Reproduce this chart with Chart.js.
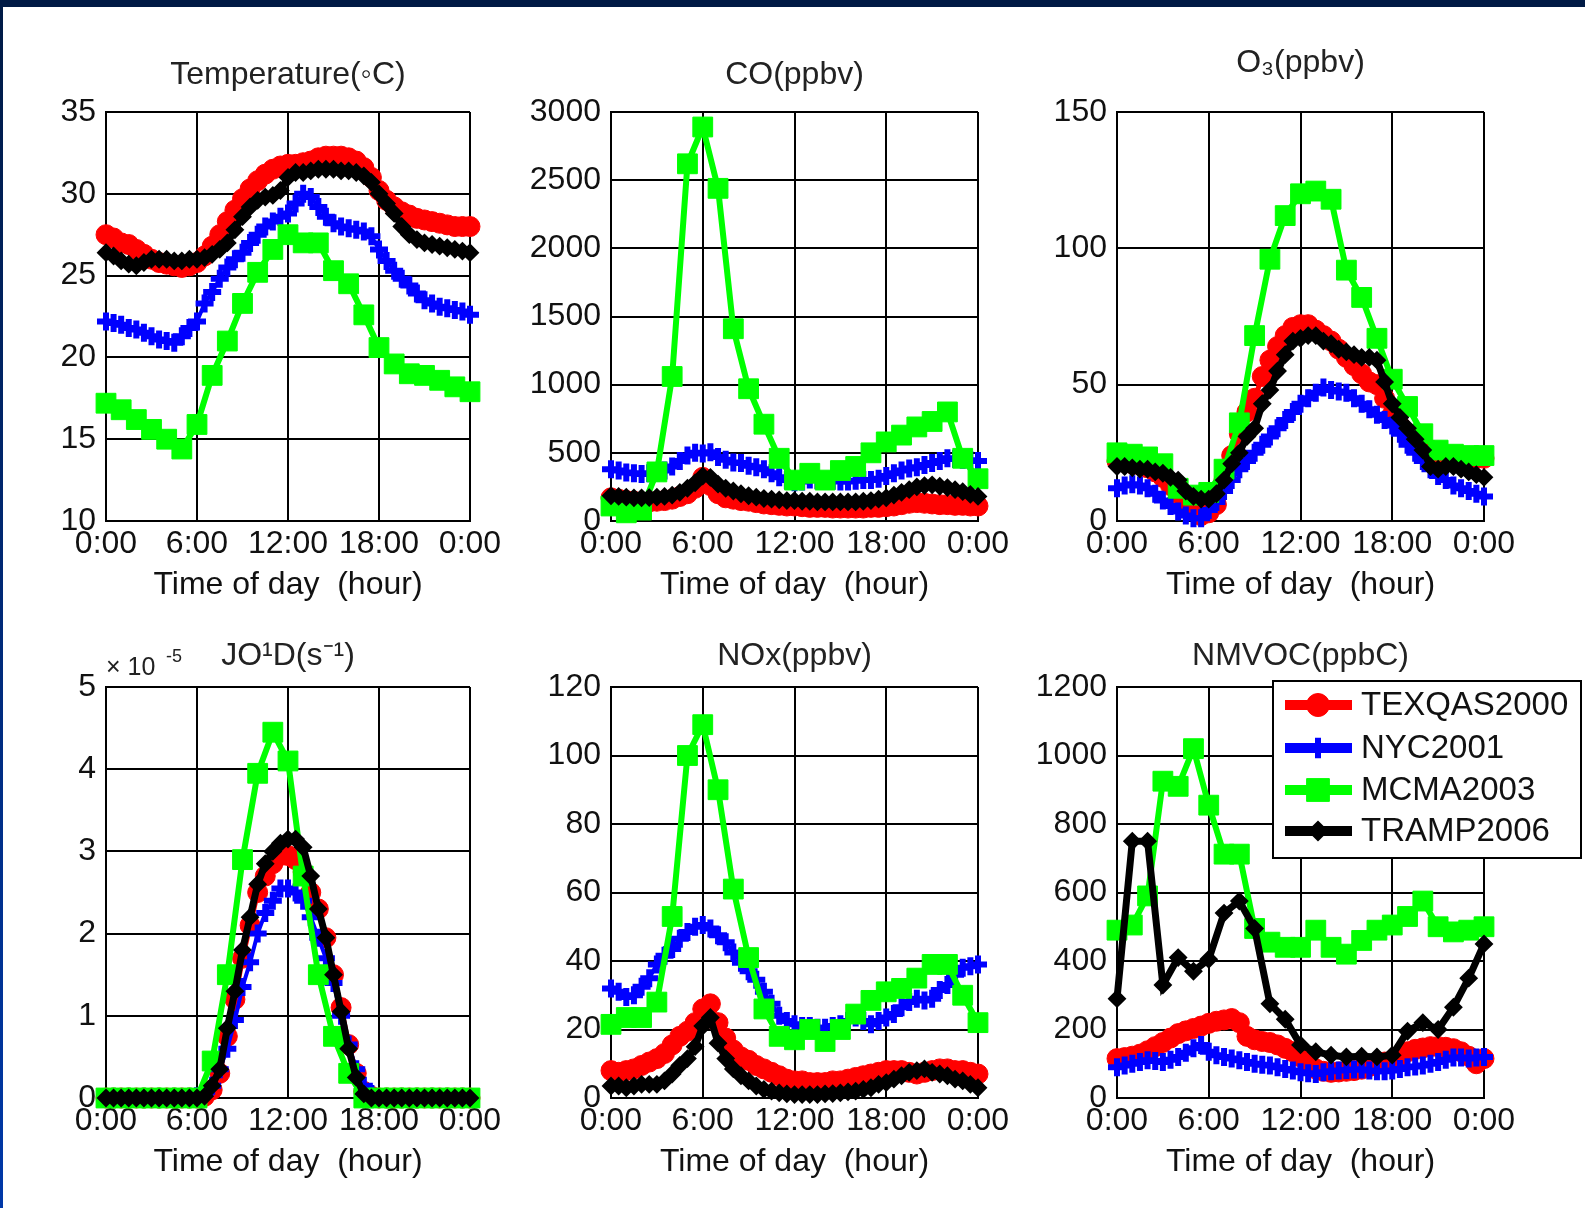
<!DOCTYPE html>
<html>
<head>
<meta charset="utf-8">
<script src="https://cdn.jsdelivr.net/npm/chart.js@4.4.1/dist/chart.umd.min.js"></script>
<style>
html,body{margin:0;padding:0;background:#fff;width:1585px;height:1208px;overflow:hidden;position:relative;}
#topbar{position:absolute;left:0;top:0;width:1585px;height:7px;background:#001a45;}
#leftbar{position:absolute;left:0;top:0;width:3px;height:1208px;background:linear-gradient(#001a45,#0038a8);}
canvas{position:absolute;}
</style>
</head>
<body>
<div id="topbar"></div><div id="leftbar"></div>
<script>
// ---------------- DATA ----------------
const SERIES_NAMES = ['TEXQAS2000', 'NYC2001', 'MCMA2003', 'TRAMP2006'];
const PANEL_TITLES = ['Temperature(\u25e6C)', 'CO(ppbv)', 'O\u2083(ppbv)', 'JO\u00b9D(s\u207b\u00b9)', 'NOx(ppbv)', 'NMVOC(ppbC)'];
const X_TITLE = 'Time of day  (hour)';
const X_TICKS = [0, 6, 12, 18, 24];
const X_TICK_LABELS = ['0:00', '6:00', '12:00', '18:00', '0:00'];
const JO1D_MULTIPLIER = ['\u00d7 10', '-5'];

const TEMP_TICKS = [10, 15, 20, 25, 30, 35];
const CO_TICKS = [0, 500, 1000, 1500, 2000, 2500, 3000];
const O3_TICKS = [0, 50, 100, 150];
const JO1D_TICKS = [0, 1, 2, 3, 4, 5];
const NOX_TICKS = [0, 20, 40, 60, 80, 100, 120];
const NMVOC_TICKS = [0, 200, 400, 600, 800, 1000, 1200];

const HOURS_HALF = [0,0.5,1,1.5,2,2.5,3,3.5,4,4.5,5,5.5,
  6,6.5,7,7.5,8,8.5,9,9.5,10,10.5,11,11.5,
  12,12.5,13,13.5,14,14.5,15,15.5,16,16.5,17,17.5,
  18,18.5,19,19.5,20,20.5,21,21.5,22,22.5,23,23.5,24];
const HOURS_FULL = [0,1,2,3,4,5,6,7,8,9,10,11,12,13,14,15,16,17,18,19,20,21,22,23,24];

// Temperature (deg C)
const TEMP_TEXQAS = [27.5,27.3,27.0,26.9,26.6,26.3,26.0,25.8,25.7,25.6,25.5,25.6,
  25.8,26.2,26.8,27.5,28.3,29.0,29.7,30.3,30.8,31.2,31.5,31.7,
  31.8,31.8,31.9,32.0,32.2,32.3,32.3,32.3,32.2,32.0,31.6,31.0,
  30.2,29.6,29.2,28.9,28.7,28.5,28.4,28.3,28.2,28.1,28.0,28.0, 28.0];
const TEMP_NYC = [22.2,22.1,22.0,21.8,21.7,21.5,21.3,21.1,21.0,20.9,21.3,21.8,
  22.2,23.3,24.0,24.8,25.5,26.0,26.4,27.0,27.5,28.0,28.3,28.6,
  28.8,29.4,30.0,29.8,29.2,28.6,28.2,28.0,27.9,27.8,27.7,27.4,
  26.6,25.9,25.3,24.8,24.4,23.9,23.5,23.3,23.1,23.0,22.9,22.8, 22.6];
const TEMP_MCMA = [17.2,16.8,16.2,15.6,15.0,14.4,15.9,18.9,21.0,23.3,25.2,26.6,27.5,
  27.0,27.0,25.3,24.5,22.6,20.6,19.6,19.0,18.9,18.6,18.2,17.9];
const TEMP_TRAMP = [26.4,26.2,25.9,25.7,25.6,25.8,26.0,26.0,26.0,25.9,25.9,26.0,
  26.0,26.1,26.3,26.6,27.0,27.8,28.6,29.2,29.6,29.8,29.9,30.2,
  31.0,31.3,31.3,31.4,31.5,31.5,31.5,31.4,31.4,31.3,31.1,30.7,
  30.0,29.4,28.8,28.0,27.5,27.2,27.0,26.9,26.8,26.7,26.6,26.5, 26.4];

// CO (ppbv)
const CO_TEXQAS = [170,160,150,145,140,140,145,150,160,180,200,240,
  320,260,200,170,160,150,145,135,125,120,115,110,
  110,105,100,100,100,95,95,95,95,95,100,100,
  105,110,120,130,135,130,125,120,120,115,115,110, 110];
const CO_NYC = [380,370,355,350,345,350,355,370,400,440,480,500,
  495,505,470,450,430,425,405,395,380,350,320,300,
  285,290,305,300,300,295,290,290,295,300,300,310,
  330,350,370,385,395,410,425,440,460,455,450,445, 440];
const CO_MCMA = [110,60,80,360,1060,2620,2890,2440,1410,970,710,460,300,
  350,300,370,400,500,580,630,690,730,800,460,310];
const CO_TRAMP = [185,180,175,170,170,172,175,180,190,210,240,280,
  330,320,270,240,220,200,185,175,165,160,155,150,
  150,145,145,140,140,140,140,140,140,145,150,160,
  170,190,210,230,250,260,265,255,245,230,215,195, 180];

// O3 (ppbv)
const O3_TEXQAS = [22,21.5,21,20.5,19.5,18,16,13,10,7,4,2,
  3,6,15,24,32,40,45,53,59,64,68,71,
  72,72,70,68,66,63,60,57,54,51,50,45,
  39,35,32,29,27,26,25,24,23.5,23,23,23, 23];
const O3_NYC = [12,13,13.5,13,12,10,7.5,5.5,3.5,2,1,1,
  4,7,11,15,19,22,25,28,31,34,37,40,
  43,45,47,49,48,47.5,47,45,43,41,39,37,
  35,32,28,25,22,19,16.5,15,13,12,11,10, 9];
const O3_MCMA = [25,24.5,23.5,21,12,9.5,10.5,19,36,68,96,112,120,
  121,118,92,82,67,52,42,32,26,24.5,24,24];
const O3_TRAMP = [20,20,19.5,19,19,18,17.5,16,15,11,9,8,
  8,10,15,21,25,31,34,43,48,55,61,66,
  67,68,68,66,65,63,62,61,60,60,59,51,
  43,38,34,30,26,20,19,20,20,19,18,17, 16];

// JO1D (x 1e-5 s^-1)
const JO1D_TEXQAS = [0,0,0,0,0,0,0,0,0,0,0,0,
  0,0.02,0.1,0.3,0.75,1.2,1.7,2.1,2.5,2.7,2.85,2.95,
  2.95,2.9,2.75,2.5,2.3,1.95,1.5,1.1,0.65,0.3,0.08,0.02,
  0,0,0,0,0,0,0,0,0,0,0,0, 0];
const JO1D_NYC = [0,0,0,0,0,0,0,0,0,0,0,0,
  0.02,0.05,0.15,0.35,0.6,0.95,1.35,1.65,2.0,2.25,2.4,2.55,
  2.55,2.5,2.4,2.2,1.95,1.7,1.4,1.0,0.65,0.35,0.15,0.05,
  0,0,0,0,0,0,0,0,0,0,0,0, 0];
const JO1D_MCMA = [0,0,0,0,0,0,0,0.45,1.5,2.9,3.95,4.45,4.1,
  2.7,1.5,0.75,0.3,0,0,0,0,0,0,0,0];
const JO1D_TRAMP = [0,0,0,0,0,0,0,0,0,0,0,0,
  0,0.02,0.15,0.35,0.85,1.3,1.8,2.2,2.6,2.85,3.0,3.1,
  3.15,3.15,3.05,2.7,2.3,1.95,1.5,1.05,0.6,0.25,0.05,0,
  0,0,0,0,0,0,0,0,0,0,0,0, 0];

// NOx (ppbv)
const NOX_TEXQAS = [8,7.5,8,8.5,9.5,10.5,11.5,13,15.5,18,19.5,22,
  26,27.5,22,17.5,14,12,11,9.5,8.5,7.5,6.5,5.5,
  5,5,4.5,4.5,4.5,5,5,5.5,6,6.5,7,7.5,
  8,8,8,7.5,7,7.5,8,8.5,8.5,8,8,7.5, 7];
const NOX_NYC = [32,31,29.5,30,32.5,35,39,41.5,43.5,46.5,48.5,50,
  50.5,49.5,47.5,45.5,42.5,39.5,37,34.5,31,27.5,24,22.5,
  21.5,21,21,20.5,20.5,21,21.5,22.5,23.5,22.5,21.5,22.5,
  23.5,24.5,26.5,28,29,28.5,29,31.5,33,36,38,38.5, 39];
const NOX_MCMA = [21.5,23.5,23.5,28,53,100,109,90,61,41,26,18,17,
  20,16.5,20,24.5,28.5,31,32,35,39,39,30,22];
const NOX_TRAMP = [3.5,3.5,3,3.5,4,4,4,5,7,9.5,11.5,15,
  21,23.5,16,11.5,8.5,6.5,5,3.5,2.5,2,1.5,1.2,
  1,1,1,1,1.2,1.3,1.5,1.8,2,2.5,3,4,
  4.5,5.5,6.5,7.5,8,8.5,7.5,7,6.5,5.5,5,4, 3];

// NMVOC (ppbC)
const NMVOC_TEXQAS = [115,118,122,128,138,150,162,175,188,196,203,210,
  218,224,228,232,220,180,170,165,162,155,145,135,
  120,100,85,78,75,76,78,80,84,92,100,105,
  110,122,135,142,146,150,150,148,144,135,122,100, 115];
const NMVOC_NYC = [90,95,100,105,110,108,105,112,120,132,145,155,
  135,125,120,115,110,105,100,97,95,90,85,80,
  75,72,70,75,78,80,82,83,83,80,78,78,
  80,85,90,92,95,100,105,112,118,118,115,118, 120];
const NMVOC_MCMA = [490,505,590,925,910,1020,855,712,712,495,455,440,440,
  490,440,420,460,490,505,530,575,500,485,490,500];
const NMVOC_TRAMP = [290,750,750,330,410,370,405,540,575,495,275,230,155,
  135,125,120,122,120,125,195,220,200,265,350,450];

// ---------------- LAYOUT / STYLE ----------------
const FONT = "'Liberation Sans', Arial, Helvetica, sans-serif";
Chart.defaults.font.family = FONT;
Chart.defaults.color = '#111';

const PLOT_LEFT = [106, 611, 1117];
const PLOT_W = [364, 367, 367];
const PLOT_TOP = [112, 687];
const PLOT_H = [409, 411];
const Y_AXIS_W = 100, TOP_SPACE = 80, X_AXIS_H = 100;
const RIGHT_SPACE = [60, 60, 100];
const TITLE_CENTER = [[37, 37, 49], [31, 31, 31]];
const TEXT_SIZE = 32;

const STYLES = [
  {color: '#ff0000', pointStyle: 'circle', radius: 10, lineWidth: 5, pointBorderWidth: 1},
  {color: '#0000ff', pointStyle: 'cross', radius: 9, lineWidth: 4, pointBorderWidth: 6},
  {color: '#00ff00', pointStyle: 'rect', radius: 14, lineWidth: 6, pointBorderWidth: 1},
  {color: '#000000', pointStyle: 'rectRot', radius: 8, lineWidth: 7, pointBorderWidth: 2}
];

function drawMarker(ctx, st, x, y, scale) {
  const opts = {pointStyle: st.pointStyle, radius: st.radius * scale, rotation: 0, borderWidth: st.pointBorderWidth};
  ctx.fillStyle = st.color; ctx.strokeStyle = st.color; ctx.lineWidth = st.pointBorderWidth;
  if (Chart.helpers && Chart.helpers.drawPoint) {
    Chart.helpers.drawPoint(ctx, opts, x, y);
  } else {
    ctx.beginPath(); ctx.arc(x, y, opts.radius, 0, Math.PI * 2); ctx.fill();
  }
}

const legendPlugin = {
  id: 'boxLegend',
  afterDraw(chart) {
    const ctx = chart.ctx, ca = chart.chartArea;
    const bx = ca.left + 156, by = ca.top - 6, bw = 308, bh = 177;
    const rows = [18, 61, 103, 144];
    ctx.save();
    ctx.fillStyle = '#fff';
    ctx.fillRect(bx, by, bw, bh);
    ctx.strokeStyle = '#000'; ctx.lineWidth = 2;
    ctx.strokeRect(bx, by, bw, bh);
    chart.data.datasets.forEach((ds, s) => {
      const st = STYLES[s];
      const y = ca.top + rows[s];
      ctx.beginPath();
      ctx.strokeStyle = st.color; ctx.lineWidth = 10; ctx.lineCap = 'butt';
      ctx.moveTo(ca.left + 168, y); ctx.lineTo(ca.left + 235, y); ctx.stroke();
      drawMarker(ctx, st, ca.left + 201, y, 1.15);
      ctx.fillStyle = '#111';
      ctx.font = '33px ' + FONT;
      ctx.textAlign = 'left'; ctx.textBaseline = 'middle';
      ctx.fillText(ds.label, ca.left + 244, y + 1);
    });
    ctx.restore();
  }
};

const multiplierPlugin = {
  id: 'multiplier',
  afterDraw(chart) {
    const ctx = chart.ctx, ca = chart.chartArea;
    ctx.save();
    ctx.fillStyle = '#222';
    ctx.textAlign = 'left'; ctx.textBaseline = 'alphabetic';
    ctx.font = '25px ' + FONT;
    ctx.fillText(JO1D_MULTIPLIER[0], ca.left + 0, ca.top - 12);
    ctx.font = '18px ' + FONT;
    ctx.fillText(JO1D_MULTIPLIER[1], ca.left + 60, ca.top - 25);
    ctx.restore();
  }
};

const PANELS = [
  {title: PANEL_TITLES[0], yTicks: TEMP_TICKS, ys: [TEMP_TEXQAS, TEMP_NYC, TEMP_MCMA, TEMP_TRAMP]},
  {title: PANEL_TITLES[1], yTicks: CO_TICKS, ys: [CO_TEXQAS, CO_NYC, CO_MCMA, CO_TRAMP]},
  {title: PANEL_TITLES[2], yTicks: O3_TICKS, ys: [O3_TEXQAS, O3_NYC, O3_MCMA, O3_TRAMP]},
  {title: PANEL_TITLES[3], yTicks: JO1D_TICKS, ys: [JO1D_TEXQAS, JO1D_NYC, JO1D_MCMA, JO1D_TRAMP], plugins: [multiplierPlugin]},
  {title: PANEL_TITLES[4], yTicks: NOX_TICKS, ys: [NOX_TEXQAS, NOX_NYC, NOX_MCMA, NOX_TRAMP]},
  {title: PANEL_TITLES[5], yTicks: NMVOC_TICKS, ys: [NMVOC_TEXQAS, NMVOC_NYC, NMVOC_MCMA, NMVOC_TRAMP], plugins: [legendPlugin],
   xs: [HOURS_HALF, HOURS_HALF, HOURS_FULL, HOURS_FULL]}
];
const DEFAULT_XS = [HOURS_HALF, HOURS_HALF, HOURS_FULL, HOURS_HALF];

function makePanel(idx, p) {
  const col = idx % 3, row = Math.floor(idx / 3);
  const cv = document.createElement('canvas');
  const w = Y_AXIS_W + PLOT_W[col] + RIGHT_SPACE[col];
  const h = TOP_SPACE + PLOT_H[row] + X_AXIS_H;
  cv.width = w; cv.height = h;
  cv.style.left = (PLOT_LEFT[col] - Y_AXIS_W) + 'px';
  cv.style.top = (PLOT_TOP[row] - TOP_SPACE) + 'px';
  cv.style.width = w + 'px'; cv.style.height = h + 'px';
  document.body.appendChild(cv);
  const lh = TEXT_SIZE * 1.2;
  const tc = TITLE_CENTER[row][col];
  const tpTop = TOP_SPACE - tc - lh / 2;
  const tpBot = TOP_SPACE - lh - tpTop;
  const xs = p.xs || DEFAULT_XS;
  const datasets = SERIES_NAMES.map((name, s) => {
    const st = STYLES[s];
    return {
      label: name,
      data: xs[s].map((x, i) => ({x: x, y: p.ys[s][i]})),
      borderColor: st.color, backgroundColor: st.color,
      borderWidth: st.lineWidth,
      pointStyle: st.pointStyle, pointRadius: st.radius, pointHoverRadius: st.radius,
      pointBorderWidth: st.pointBorderWidth,
      pointBackgroundColor: st.color, pointBorderColor: st.color,
      tension: 0, clip: false, order: 3 - s
    };
  });
  const yT = p.yTicks;
  new Chart(cv, {
    type: 'line',
    data: {datasets},
    options: {
      responsive: false, animation: false, devicePixelRatio: 1, events: [],
      layout: {padding: {left: 0, right: RIGHT_SPACE[col], top: 0, bottom: 0}},
      plugins: {
        legend: {display: false}, tooltip: {enabled: false},
        title: {display: true, text: p.title, fullSize: false, color: '#222',
          font: {size: TEXT_SIZE, weight: 'normal', lineHeight: 1.2},
          padding: {top: tpTop, bottom: tpBot}}
      },
      scales: {
        x: {
          type: 'linear', min: X_TICKS[0], max: X_TICKS[X_TICKS.length - 1],
          afterBuildTicks: ax => { ax.ticks = X_TICKS.map(v => ({value: v})); },
          afterFit: ax => { ax.height = X_AXIS_H; },
          ticks: {callback: v => X_TICK_LABELS[X_TICKS.indexOf(v)], font: {size: TEXT_SIZE}, color: '#111',
            padding: 4, maxRotation: 0, autoSkip: false},
          grid: {color: '#000', lineWidth: 2, drawTicks: false},
          border: {color: '#000', width: 2},
          title: {display: true, text: X_TITLE, font: {size: TEXT_SIZE, lineHeight: 1.2}, color: '#111',
            padding: {top: 0, bottom: 17}}
        },
        y: {
          type: 'linear', min: yT[0], max: yT[yT.length - 1],
          afterBuildTicks: ax => { ax.ticks = yT.map(v => ({value: v})); },
          afterFit: ax => { ax.width = Y_AXIS_W; },
          ticks: {callback: v => String(v), font: {size: TEXT_SIZE}, color: '#111', padding: 10, autoSkip: false},
          grid: {color: '#000', lineWidth: 2, drawTicks: false},
          border: {color: '#000', width: 2}
        }
      }
    },
    plugins: p.plugins || []
  });
}

PANELS.forEach((p, i) => makePanel(i, p));
</script>
</body>
</html>
